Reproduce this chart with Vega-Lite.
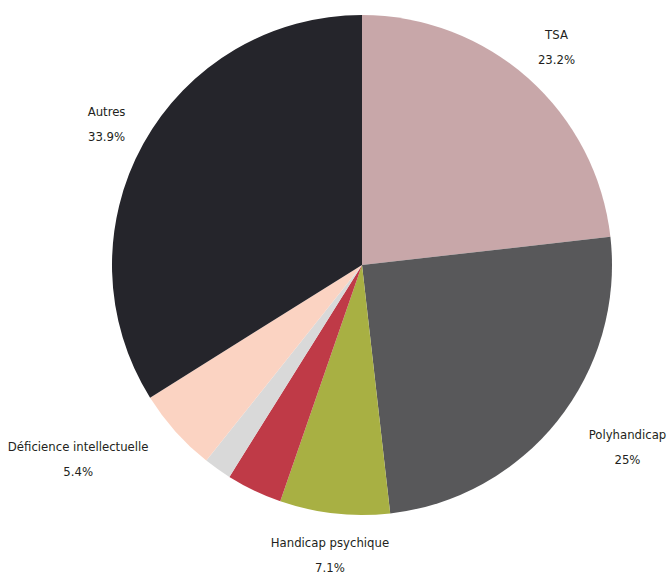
{
  "$schema": "https://vega.github.io/schema/vega-lite/v6.json",
  "width": 500,
  "height": 500,
  "autosize": "none",
  "padding": {"left": 112, "top": 15, "right": 55, "bottom": 59},
  "background": "white",
  "config": {"view": {"stroke": null}},
  "data": {
    "values": [
      {"category": "TSA", "value": 0.232, "order": 1, "group": "c"},
      {"category": "Polyhandicap", "value": 0.25, "order": 2, "group": "r"},
      {"category": "Handicap psychique", "value": 0.071, "order": 3, "group": "c"},
      {"category": "Handicap moteur", "value": 0.036, "order": 4, "group": "none"},
      {"category": "Handicap sensoriel", "value": 0.018, "order": 5, "group": "none"},
      {"category": "Déficience intellectuelle", "value": 0.054, "order": 6, "group": "l"},
      {"category": "Autres", "value": 0.339, "order": 7, "group": "c"}
    ]
  },
  "encoding": {
    "theta": {"field": "value", "type": "quantitative", "stack": true},
    "order": {"field": "order", "type": "quantitative"}
  },
  "layer": [
    {
      "mark": {"type": "arc", "outerRadius": 250},
      "encoding": {
        "color": {
          "field": "category",
          "type": "nominal",
          "legend": null,
          "scale": {
            "domain": ["TSA", "Polyhandicap", "Handicap psychique", "Handicap moteur", "Handicap sensoriel", "Déficience intellectuelle", "Autres"],
            "range": ["#c8a7a9", "#58585a", "#a8b043", "#bf3a47", "#d9d9d9", "#fbd3c2", "#25252b"]
          }
        }
      }
    },
    {
      "mark": {"type": "text", "radius": 292, "dy": -12, "font": "DejaVu Sans Condensed, Roboto, sans-serif", "fontSize": 13, "color": "#231f20"},
      "encoding": {"text": {"condition": {"test": "datum.group == 'c'", "field": "category"}, "value": ""}}
    },
    {
      "mark": {"type": "text", "radius": 292, "dy": 13, "font": "DejaVu Sans Condensed, Roboto, sans-serif", "fontSize": 13, "color": "#231f20"},
      "encoding": {"text": {"condition": {"test": "datum.group == 'c'", "field": "value", "format": ".3~%"}, "value": ""}}
    },
    {
      "mark": {"type": "text", "radius": 292, "dx": 37, "dy": -12, "font": "DejaVu Sans Condensed, Roboto, sans-serif", "fontSize": 13, "color": "#231f20"},
      "encoding": {"text": {"condition": {"test": "datum.group == 'r'", "field": "category"}, "value": ""}}
    },
    {
      "mark": {"type": "text", "radius": 292, "dx": 37, "dy": 13, "font": "DejaVu Sans Condensed, Roboto, sans-serif", "fontSize": 13, "color": "#231f20"},
      "encoding": {"text": {"condition": {"test": "datum.group == 'r'", "field": "value", "format": ".3~%"}, "value": ""}}
    },
    {
      "mark": {"type": "text", "radius": 292, "dx": -66, "dy": -12, "font": "DejaVu Sans Condensed, Roboto, sans-serif", "fontSize": 13, "color": "#231f20"},
      "encoding": {"text": {"condition": {"test": "datum.group == 'l'", "field": "category"}, "value": ""}}
    },
    {
      "mark": {"type": "text", "radius": 292, "dx": -66, "dy": 13, "font": "DejaVu Sans Condensed, Roboto, sans-serif", "fontSize": 13, "color": "#231f20"},
      "encoding": {"text": {"condition": {"test": "datum.group == 'l'", "field": "value", "format": ".3~%"}, "value": ""}}
    }
  ]
}
